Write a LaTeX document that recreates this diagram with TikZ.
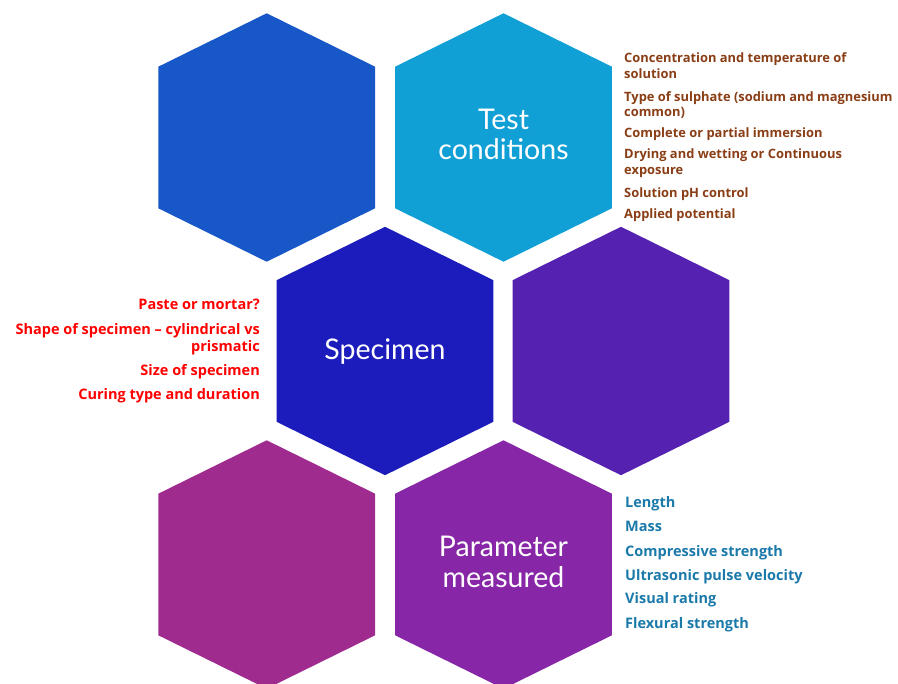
\documentclass[tikz,border=0pt]{standalone}
\usepackage{fontspec}
\setmainfont{Lato}
\newfontfamily\listfont{Open Sans}
\definecolor{hexA}{HTML}{1757C8}
\definecolor{hexB}{HTML}{11A0D6}
\definecolor{hexC}{HTML}{1C1CBC}
\definecolor{hexD}{HTML}{5521B0}
\definecolor{hexE}{HTML}{A02B8F}
\definecolor{hexF}{HTML}{8826A8}
\definecolor{brownT}{HTML}{8A3E16}
\definecolor{redT}{HTML}{FF0000}
\definecolor{blueT}{HTML}{1B7AAA}
\newcommand\myhex[4]{%
  \coordinate (#1) at (#2,#3);
  \fill[#4] (#1) +(0,124.2) -- +(108.4,70.8) -- +(108.4,-70.8) -- +(0,-124.2) -- +(-108.4,-70.8) -- +(-108.4,70.8) -- cycle;}
\begin{document}
\begin{tikzpicture}[x=1pt,y=1pt,
  hextext/.style={anchor=base, text=white, inner sep=0pt, font=\fontsize{28.5}{32}\selectfont},
  brownitem/.style={anchor=base west, text=brownT, inner sep=0pt, font=\listfont\fontsize{12.9}{16}\selectfont\bfseries},
  reditem/.style={anchor=base east, text=redT, inner sep=0pt, font=\listfont\fontsize{14.5}{17}\selectfont\bfseries},
  blueitem/.style={anchor=base west, text=blueT, inner sep=0pt, font=\listfont\fontsize{14.5}{17}\selectfont\bfseries}]
\clip (0,0) rectangle (898,-684);
\fill[white] (0,0) rectangle (898,-684);
\myhex{h1}{266.7}{-137.5}{hexA}
\myhex{h2}{503.5}{-137.5}{hexB}
\myhex{h3}{385}{-351}{hexC}
\myhex{h4}{621}{-351}{hexD}
\myhex{h5}{266.7}{-564.5}{hexE}
\myhex{h6}{503.5}{-564.5}{hexF}
% hexagon labels
\node[hextext] (t1) at (503.5,-129.8) {Test};
\node[hextext] (t2) at (503.5,-159.8) {conditions};
\node[hextext] (s1) at (385,-359.5) {Specimen};
\node[hextext] (p1) at (503.5,-556.5) {Parameter};
\node[hextext] (p2) at (503.5,-587.2) {measured};
% test conditions list
\node[brownitem] (b1) at (624,-62.2) {Concentration and temperature of};
\node[brownitem] (b1b) at (624,-78.2) {solution};
\node[brownitem] (b2) at (624,-101.2) {Type of sulphate (sodium and magnesium};
\node[brownitem] (b2b) at (624,-116.8) {common)};
\node[brownitem] (b3) at (624,-137.8) {Complete or partial immersion};
\node[brownitem] (b4) at (624,-158.8) {Drying and wetting or Continuous};
\node[brownitem] (b4b) at (624,-174.8) {exposure};
\node[brownitem] (b5) at (624,-197.2) {Solution pH control};
\node[brownitem] (b6) at (624,-218.8) {Applied potential};
% specimen list
\node[reditem] (r1) at (260,-309.8) {Paste or mortar?};
\node[reditem] (r2) at (260,-334.5) {Shape of specimen – cylindrical vs};
\node[reditem] (r2b) at (260,-351.2) {prismatic};
\node[reditem] (r3) at (260,-375.5) {Size of specimen};
\node[reditem] (r4) at (260,-399.8) {Curing type and duration};
% parameter list
\node[blueitem] (u1) at (625,-507.2) {Length};
\node[blueitem] (u2) at (625,-531.5) {Mass};
\node[blueitem] (u3) at (625,-556.5) {Compressive strength};
\node[blueitem] (u4) at (625,-580.5) {Ultrasonic pulse velocity};
\node[blueitem] (u5) at (625,-603.8) {Visual rating};
\node[blueitem] (u6) at (625,-628.2) {Flexural strength};
\end{tikzpicture}
\end{document}
